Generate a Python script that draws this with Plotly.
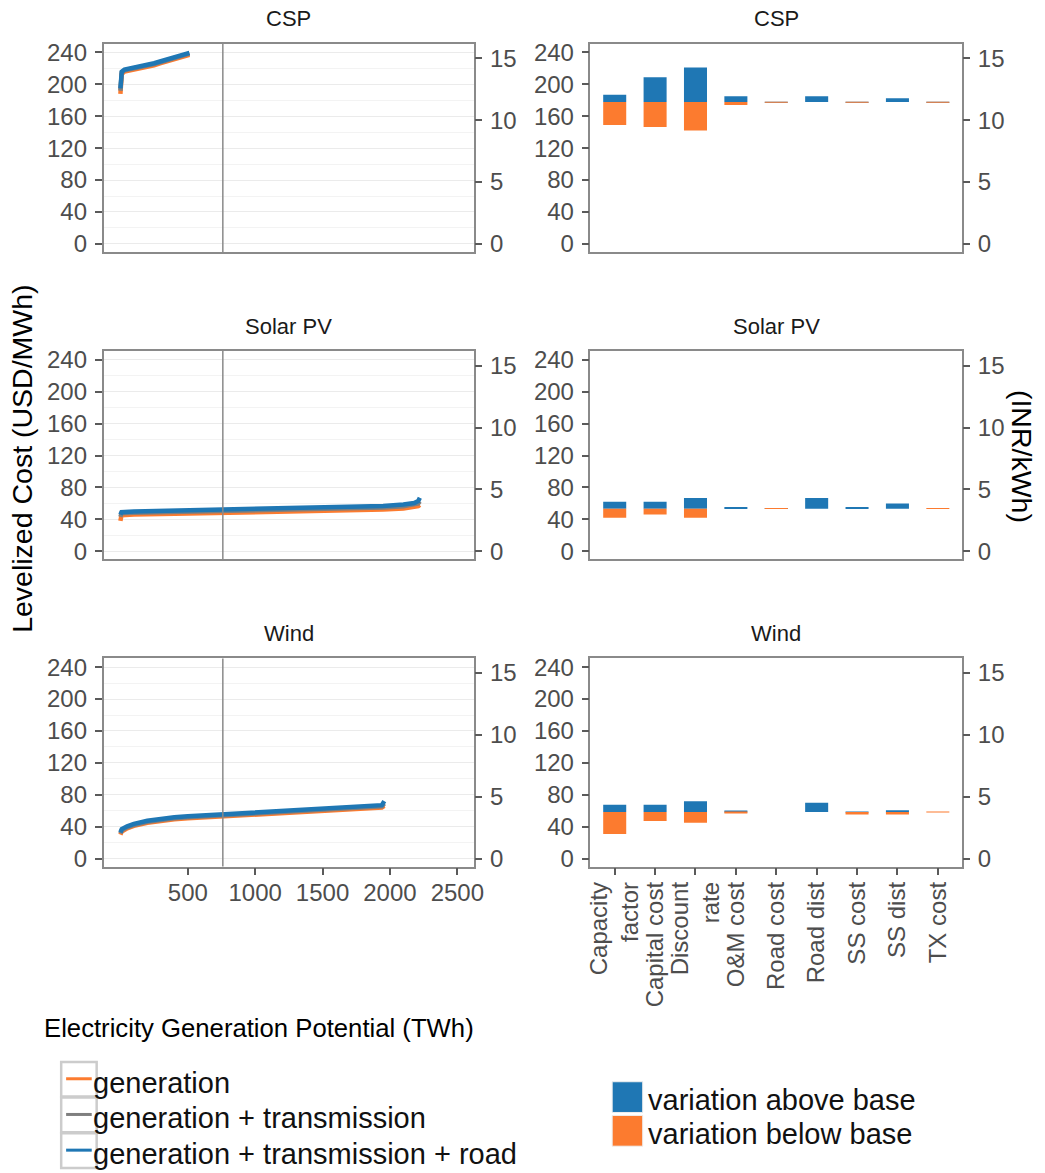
import plotly.graph_objects as go

W, H = 1045, 1173
FONT = "Liberation Sans, Arial, Helvetica, sans-serif"

# ---------------- data ----------------
TECHS = ["CSP", "Solar PV", "Wind"]
INR_PER_USD = 64.5          # secondary axis conversion (USD/MWh -> INR/kWh)
VLINE_TWH = 760             # vertical reference line (TWh)

# supply curves: cumulative potential (TWh) vs levelized cost (USD/MWh)
csp_x = [0, 3, 10, 30, 60, 100, 150, 200, 250, 300, 350, 400, 450, 490, 512]
csp_gen = [188, 203, 213, 216, 217, 218.5, 220, 222, 224, 226.5, 229, 231.5, 234, 235.5, 237]
csp_gen_tx = [192, 206, 215, 217.5, 218.5, 220, 221.5, 223.5, 225.5, 228, 230.5, 233, 235.5, 237, 238.5]
csp_gen_tx_road = [195, 208, 216, 218.5, 219.5, 221, 222.5, 224.5, 226.5, 229, 231.5, 234, 236.5, 238, 239.5]

pv_x = [0, 8, 100, 300, 500, 760, 1000, 1250, 1500, 1750, 1950, 2100, 2180, 2210, 2222]
pv_gen = [38, 45, 46, 46.6, 47.2, 48, 48.6, 49.3, 50, 50.9, 52.2, 53.6, 55, 56.5, 58]
pv_gen_tx = [43, 47.5, 48.3, 49, 49.7, 50.4, 51.1, 51.8, 52.6, 53.5, 54.8, 56.3, 58, 60, 62.5]
pv_gen_tx_road = [46, 49, 49.8, 50.5, 51.2, 52, 52.7, 53.5, 54.3, 55.3, 56.8, 58.5, 60.5, 63, 67]

wind_x = [0, 10, 50, 100, 200, 300, 400, 500, 760, 1000, 1250, 1500, 1750, 1900, 1940, 1958]
wind_gen = [30, 34, 38, 41, 45, 47.5, 49.3, 50.5, 52.8, 55, 57.2, 59.3, 61.3, 62.8, 64, 66]
wind_gen_tx = [31.5, 35.5, 39.2, 42.2, 46.2, 48.7, 50.5, 51.7, 54, 56.2, 58.5, 60.6, 62.6, 64.1, 65.5, 69]
wind_gen_tx_road = [33, 37, 40.5, 43.5, 47.5, 50, 51.8, 53, 55.3, 57.5, 59.8, 62, 64, 65.5, 67, 72]

# sensitivity: parameters, base cost, high and low variation (USD/MWh)
PARAMS = ["Capacity<br>factor", "Capital cost", "Discount<br>rate", "O&M cost", "Road cost",
          "Road dist", "SS cost", "SS dist", "TX cost"]
csp_base = 178
csp_high = [187, 209, 221, 185, 178.15, 185, 178.15, 182.5, 178.15]
csp_low = [149, 146.5, 142, 174, 177.85, 178, 177.85, 178, 177.85]
pv_base = 53.3
pv_high = [62, 62, 66.7, 55.2, 53.45, 66.7, 55.2, 60, 53.3]
pv_low = [42, 46, 42, 53.3, 53.15, 53.3, 53.3, 53.3, 53.1]
wind_base = 58.4
wind_high = [67.6, 67.6, 72, 60, 58.4, 70, 58.6, 60.5, 58.4]
wind_low = [31, 47.2, 45, 56.8, 58.4, 58.4, 56.6, 56.6, 58.2]

Y_TICKS = [0, 40, 80, 120, 160, 200, 240]
INR_TICKS = [0, 5, 10, 15]
X_TICKS = [500, 1000, 1500, 2000, 2500]
SERIES = ["generation", "generation + transmission", "generation + transmission + road"]

curves = [
    (csp_x, [csp_gen, csp_gen_tx, csp_gen_tx_road]),
    (pv_x, [pv_gen, pv_gen_tx, pv_gen_tx_road]),
    (wind_x, [wind_gen, wind_gen_tx, wind_gen_tx_road]),
]
sens = [
    (csp_base, csp_high, csp_low),
    (pv_base, pv_high, pv_low),
    (wind_base, wind_high, wind_low),
]

# ---------------- style ----------------
ORANGE = "#fc7b2f"
BLUE = "#1f77b4"
GRAY = "#7f7f7f"
LINE_COLORS = [ORANGE, GRAY, BLUE]
AXLINE = "#8a8a8a"
TICKCOL = "#5a5a5a"
TXT = "#4d4d4d"
TICK_SIZE = 24

Y_RANGE = [-10, 251]
SEC_RANGE = [v * INR_PER_USD / 1000 for v in Y_RANGE]
X_RANGE = [-125, 2625]

COLS = [(100, 476), (594, 971)]
ROWS = [(39, 249), (349, 559), (659, 869)]


def xd(a, b):
    return [a / W, b / W]


def yd(top, bot):
    return [1 - bot / H, 1 - top / H]


def sfx(i):
    return "" if i == 1 else str(i)


fig = go.Figure()
layout = {}
shapes = []
annotations = []

for r in range(3):
    for c in range(2):
        i = 2 * r + c + 1
        sec = 6 + i
        xa = "xaxis" + sfx(i)
        ya = "yaxis" + sfx(i)
        yb = "yaxis%d" % sec
        xr = "x" + sfx(i)
        yr = "y" + sfx(i)
        yr2 = "y%d" % sec
        bottom = r == 2
        xcfg = dict(domain=xd(*COLS[c]), anchor=yr, showline=True, mirror=True,
                    linecolor=AXLINE, linewidth=1.5, showgrid=False, zeroline=False,
                    ticks="outside" if bottom else "", ticklen=7, tickwidth=1.5,
                    tickcolor=TICKCOL, showticklabels=bottom, ticklabelstandoff=-3,
                    tickfont=dict(family=FONT, size=TICK_SIZE, color=TXT))
        if c == 0:
            xcfg.update(range=X_RANGE, tickmode="array", tickvals=X_TICKS)
        else:
            xcfg.update(type="category", range=[-0.6, 8.6], tickangle=-90,
                        categoryorder="array", categoryarray=PARAMS)
        layout[xa] = xcfg
        ycfg = dict(domain=yd(*ROWS[r]), anchor=xr, range=Y_RANGE,
                    tickmode="array", tickvals=Y_TICKS, ticks="outside", ticklen=7,
                    tickwidth=1.5, tickcolor=TICKCOL, showline=True, mirror=True,
                    linecolor=AXLINE, linewidth=1.5, zeroline=False, ticklabelstandoff=3,
                    tickfont=dict(family=FONT, size=TICK_SIZE, color=TXT),
                    showgrid=(c == 0), gridcolor="#ebebeb", gridwidth=1.2)
        if c == 0:
            ycfg["minor"] = dict(tickmode="array", tickvals=[20, 60, 100, 140, 180, 220],
                                 showgrid=True, gridcolor="#f3f3f3", gridwidth=1, ticks="")
        layout[ya] = ycfg
        layout[yb] = dict(overlaying=yr, anchor=xr, side="right",
                          range=SEC_RANGE, tickmode="array", tickvals=INR_TICKS,
                          ticks="outside", ticklen=7, tickwidth=1.5, tickcolor=TICKCOL,
                          showline=False, showgrid=False, zeroline=False, ticklabelstandoff=3,
                          tickfont=dict(family=FONT, size=TICK_SIZE, color=TXT))

        # panel strip title
        annotations.append(dict(x=(COLS[c][0] + COLS[c][1]) / 2 / W, y=1 - (ROWS[r][0] - 25) / H,
                                xref="paper", yref="paper", text=TECHS[r], showarrow=False,
                                font=dict(family=FONT, size=22, color="#1a1a1a"),
                                xanchor="center", yanchor="middle"))

        if c == 0:
            xs, ys_list = curves[r]
            for k, ys in enumerate(ys_list):
                fig.add_trace(go.Scatter(x=xs, y=ys, mode="lines", name=SERIES[k],
                                         line=dict(color=LINE_COLORS[k], width=4.5),
                                         xaxis=xr, yaxis=yr, showlegend=False))
            # same curve in INR/kWh on the secondary axis (invisible, drives the axis)
            fig.add_trace(go.Scatter(x=xs, y=[v * INR_PER_USD / 1000 for v in ys_list[2]],
                                     mode="lines", line=dict(width=0), opacity=0,
                                     hoverinfo="skip", showlegend=False,
                                     xaxis=xr, yaxis=yr2))
            shapes.append(dict(type="line", xref=xr, yref=yr + " domain",
                               x0=VLINE_TWH, x1=VLINE_TWH, y0=0, y1=1,
                               line=dict(color="#8a8a8a", width=1.5), layer="above"))
        else:
            base, high, low = sens[r]
            fig.add_trace(go.Bar(x=PARAMS, y=[h - base for h in high], base=[base] * len(high),
                                 marker=dict(color=BLUE, line=dict(width=0)), width=0.57,
                                 name="variation above base", showlegend=False,
                                 xaxis=xr, yaxis=yr))
            fig.add_trace(go.Bar(x=PARAMS, y=[base - l for l in low], base=low,
                                 marker=dict(color=ORANGE, line=dict(width=0)), width=0.57,
                                 name="variation below base", showlegend=False,
                                 xaxis=xr, yaxis=yr))
            fig.add_trace(go.Scatter(x=PARAMS, y=[base * INR_PER_USD / 1000] * len(PARAMS),
                                     mode="lines", line=dict(width=0), opacity=0,
                                     hoverinfo="skip", showlegend=False,
                                     xaxis=xr, yaxis=yr2))

# axis titles
annotations.append(dict(x=17 / W, y=1 - 458 / H, xref="paper", yref="paper",
                        text="Levelized Cost (USD/MWh)", textangle=-90, showarrow=False,
                        font=dict(family=FONT, size=28.5, color="#000000"),
                        xanchor="center", yanchor="middle"))
annotations.append(dict(x=1032 / W, y=1 - 455 / H, xref="paper", yref="paper",
                        text="(INR/kWh)", textangle=90, showarrow=False,
                        font=dict(family=FONT, size=28.5, color="#000000"),
                        xanchor="center", yanchor="middle"))
annotations.append(dict(x=38 / W, y=1 - 1032 / H, xref="paper", yref="paper",
                        text="Electricity Generation Potential (TWh)", showarrow=False,
                        font=dict(family=FONT, size=25.7, color="#000000"),
                        xanchor="left", yanchor="middle"))

# line legend (ggplot style keys)
key_tops = [1066, 1102, 1138]
for k, name in enumerate(SERIES):
    t = key_tops[k]
    shapes.append(dict(type="rect", xref="paper", yref="paper",
                       x0=57 / W, x1=93 / W, y0=1 - (t + 35) / H, y1=1 - t / H,
                       line=dict(color="#cccccc", width=2.5), fillcolor="white"))
    yc = t + 17
    shapes.append(dict(type="line", xref="paper", yref="paper",
                       x0=62 / W, x1=88 / W, y0=1 - yc / H, y1=1 - yc / H,
                       line=dict(color=LINE_COLORS[k], width=3)))
    annotations.append(dict(x=87 / W, y=1 - (yc + 4) / H, xref="paper", yref="paper", text=name,
                            showarrow=False, xanchor="left", yanchor="middle",
                            font=dict(family=FONT, size=29, color="#111111")))

# bar legend
bar_keys = [("variation above base", BLUE, 1086, 1117), ("variation below base", ORANGE, 1120, 1151)]
for name, col, t, b in bar_keys:
    shapes.append(dict(type="rect", xref="paper", yref="paper",
                       x0=616 / W, x1=647 / W, y0=1 - b / H, y1=1 - t / H,
                       line=dict(color="#eeeeee", width=1), fillcolor=col))
    annotations.append(dict(x=650 / W, y=1 - ((t + b) / 2 + 3) / H, xref="paper", yref="paper",
                            text=name, showarrow=False, xanchor="left", yanchor="middle",
                            font=dict(family=FONT, size=29, color="#111111")))

fig.update_layout(width=W, height=H, margin=dict(l=0, r=0, t=0, b=0),
                  paper_bgcolor="white", plot_bgcolor="white", barmode="overlay",
                  showlegend=False, shapes=shapes, annotations=annotations,
                  font=dict(family=FONT), **layout)

fig.write_html("out.html", config={"displayModeBar": False},
               post_script="document.body.style.margin='0';")
